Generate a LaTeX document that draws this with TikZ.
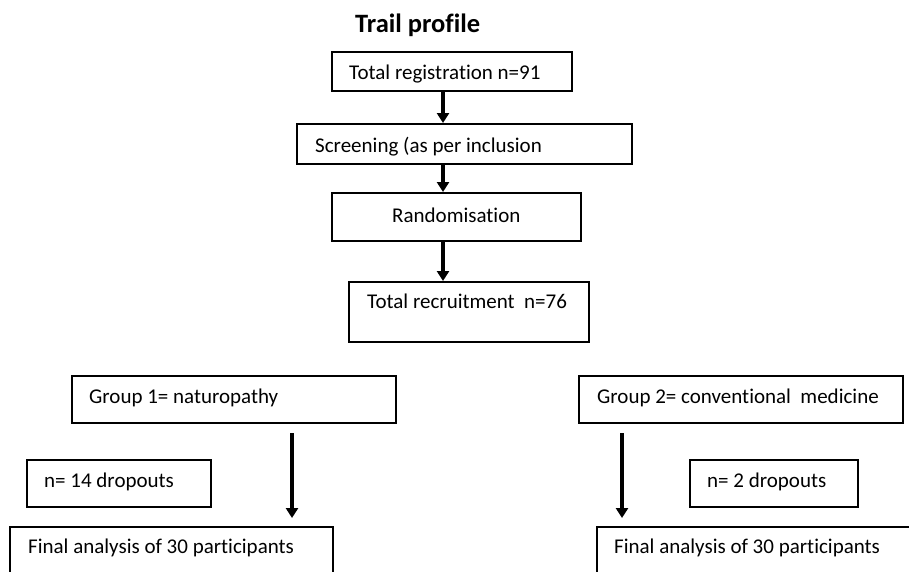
\documentclass[tikz,border=0pt]{standalone}
\usepackage{fontspec}
\setmainfont{Carlito}[Ligatures=NoCommon]
\usetikzlibrary{arrows.meta}
\tikzset{
  box/.style={draw=black, line width=2pt, rectangle, inner sep=0pt},
  txt/.style={anchor=base west, inner sep=0pt, font=\fontsize{21}{24}\selectfont},
  arr/.style={line width=3.2pt, -{Triangle[width=12pt,length=10pt]}}
}
\begin{document}
\begin{tikzpicture}[x=1pt,y=-1pt]
\clip (0,0) rectangle (909,571);
\fill[white] (0,0) rectangle (909,571);
% title
\node[anchor=base west, inner sep=0pt, font=\fontsize{26.5}{30}\selectfont\bfseries] (title) at (355,32) {Trail profile};
% boxes
\node[box, minimum width=240pt, minimum height=39pt] (b1) at (452,71.5) {};
\node[box, minimum width=335pt, minimum height=40pt] (b2) at (464.5,144) {};
\node[box, minimum width=249pt, minimum height=48pt] (b3) at (456.5,217) {};
\node[box, minimum width=240pt, minimum height=60pt] (b4) at (469,312) {};
\node[box, minimum width=324pt, minimum height=47pt] (g1) at (234,399.5) {};
\node[box, minimum width=184pt, minimum height=47pt] (d1) at (119,483.5) {};
\node[box, minimum width=323pt, minimum height=73pt] (f1) at (171.5,563.5) {};
\node[box, minimum width=324pt, minimum height=47pt] (g2) at (741,399.5) {};
\node[box, minimum width=168pt, minimum height=47pt] (d2) at (774,483.5) {};
\node[box, minimum width=353pt, minimum height=73pt] (f2) at (773.5,563.5) {};
% texts
\node[txt] (t1) at (349,79) {Total registration n=91};
\node[txt] (t2) at (315,152) {Screening (as per inclusion};
\node[txt] (t3) at (392,222) {Randomisation};
\node[txt] (t4) at (367,308) {Total recruitment\ \ n=76};
\node[txt] (tg1) at (89,403) {Group 1= naturopathy};
\node[txt] (td1) at (44,487) {n= 14 dropouts};
\node[txt] (tf1) at (28,553) {Final analysis of 30 participants};
\node[txt] (tg2) at (597,403) {Group 2= conventional\ \ medicine};
\node[txt] (td2) at (707,487) {n= 2 dropouts};
\node[txt] (tf2) at (614,553) {Final analysis of 30 participants};
% arrows
\draw[arr] (b1.south -| 443,0) -- (b2.north -| 443,0);
\draw[arr] (b2.south -| 443,0) -- (b3.north -| 443,0);
\draw[arr] (b3.south -| 443,0) -- (b4.north -| 443,0);
\draw[arr, shorten <=9pt, shorten >=8pt] (g1.south -| 292,0) -- (f1.north -| 292,0);
\draw[arr, shorten <=9pt, shorten >=8pt] (g2.south -| 622,0) -- (f2.north -| 622,0);
\end{tikzpicture}
\end{document}
